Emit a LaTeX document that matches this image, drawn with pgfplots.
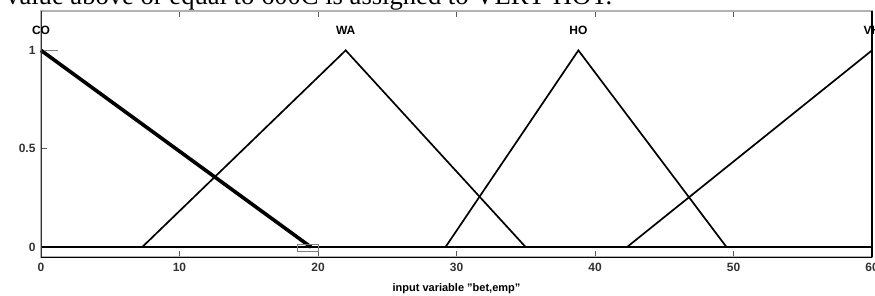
\documentclass[border=0pt]{standalone}
\usepackage{pgfplots}
\pgfplotsset{compat=1.18}
\usepackage{fontspec}
\setmainfont{Liberation Serif}
\setsansfont{Liberation Sans}
\begin{document}
\begin{tikzpicture}
\path[use as bounding box] (0pt,0pt) rectangle (875pt,-295pt);
\node[anchor=base west, font=\fontsize{26.6}{26.6}\selectfont, inner sep=0] at (6pt,-4.3pt) {value above or equal to 600C is assigned to VERY HOT.};
\begin{axis}[
  at={(41pt,-257pt)}, anchor=south west, scale only axis,
  width=831pt, height=246pt,
  xmin=0, xmax=60, ymin=-0.05, ymax=1.2,
  xtick={0,10,20,30,40,50,60}, ytick={0,0.5,1},
  xtick pos=both, ytick pos=left,
  tick align=inside,
  major tick length=6pt,
  axis line style={draw=gray!60, line width=1.5pt},
  tick style={draw=gray!70!black, line width=1pt},
  /pgf/number format/assume math mode=true,
  tick label style={font=\sffamily\bfseries\fontsize{12}{12}\selectfont, text=black!80},
  xticklabel style={yshift=-2.5pt},
  yticklabel style={xshift=-2pt},
  xlabel={input variable \symbol{34}bet,emp\symbol{34}},
  xlabel style={font=\sffamily\bfseries\fontsize{11}{11}\selectfont, yshift=-5pt},
  clip=false,
]
\addplot[black, line width=2.6pt] coordinates {(0,0) (60,0)};
\addplot[black, line width=3.6pt] coordinates {(0,1) (19.5,0)};
\addplot[black, line width=1.7pt] coordinates {(7.3,0) (22,1) (35,0)};
\addplot[black, line width=1.7pt] coordinates {(29.2,0) (38.8,1) (49.5,0)};
\addplot[black, line width=1.7pt] coordinates {(42.3,0) (60,1)};
\draw[black, line width=1pt] (axis cs:0,-0.05) -- (axis cs:60,-0.05);
\draw[black, line width=2pt] (axis cs:60,-0.05) -- (axis cs:60,1.2);
\draw[black!80, line width=1pt] (axis cs:0,-0.05) -- (axis cs:0,1.2);
\draw[gray, line width=1pt] (axis cs:0.2,1) -- (axis cs:1.2,1);
\draw[gray, line width=1pt] (axis cs:18.5,0.012) rectangle (axis cs:20,-0.02);
\node[font=\sffamily\bfseries\fontsize{12}{12}\selectfont] at (axis cs:0,1.1) {CO};
\node[font=\sffamily\bfseries\fontsize{12}{12}\selectfont] at (axis cs:22,1.1) {WA};
\node[font=\sffamily\bfseries\fontsize{12}{12}\selectfont] at (axis cs:38.8,1.1) {HO};
\node[font=\sffamily\bfseries\fontsize{12}{12}\selectfont] at (axis cs:60,1.1) {VH};
\end{axis}
\end{tikzpicture}
\end{document}
